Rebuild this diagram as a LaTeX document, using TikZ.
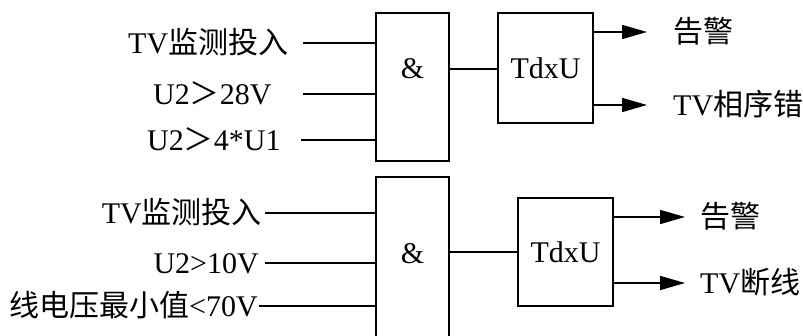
\documentclass[tikz,border=0pt]{standalone}
\usepackage{fontspec}
\setmainfont{Liberation Serif}
\newfontfamily\cjk{Noto Sans CJK SC}
\usetikzlibrary{arrows.meta}
\tikzset{
  gate/.style={draw=black, line width=1.7pt, minimum width=73pt, inner sep=0pt},
  delay/.style={draw=black, line width=1.7pt, minimum width=95pt, inner sep=0pt},
  wire/.style={draw=black, line width=1.7pt},
  outarr/.style={wire, -{Triangle[length=25pt,width=14pt]}},
  lab/.style={inner sep=0pt, font=\fontsize{30}{34}\selectfont},
}
\begin{document}
\begin{tikzpicture}[x=1pt,y=-1pt]
  \useasboundingbox (0,0) rectangle (803,336);
  \clip (0,0) rectangle (803,336);
  % upper branch: phase sequence
  \node[gate,minimum height=148pt] (andA) at (412.5,87) {};
  \node[delay,minimum height=110pt] (dlyA) at (545.5,68) {};
  \node[lab] (ampA) at (412.5,69) {\&};
  \node[lab] (tdA) at (dlyA) {TdxU};
  \coordinate (inA1) at (303,43);
  \coordinate (inA2) at (303,94);
  \coordinate (inA3) at (301,140);
  \node[lab,anchor=base west] (labA1) at (128,54) {TV{\cjk 监测投入}};
  \node[lab,anchor=base west] (labA2) at (153,105) {U2{\cjk ＞}28V};
  \node[lab,anchor=base west] (labA3) at (147,151) {U2{\cjk ＞}4*U1};
  \draw[wire] (inA1) -- (inA1 -| andA.west);
  \draw[wire] (inA2) -- (inA2 -| andA.west);
  \draw[wire] (inA3) -- (inA3 -| andA.west);
  \draw[wire] (ampA -| andA.east) -- (ampA -| dlyA.west);
  \coordinate (outA1) at (647,32);
  \coordinate (outA2) at (647,105);
  \draw[outarr] (outA1 -| dlyA.east) -- (outA1);
  \draw[outarr] (outA2 -| dlyA.east) -- (outA2);
  \node[lab,anchor=base west] (alA) at (673,43) {\cjk 告警};
  \node[lab,anchor=base west] (errA) at (673,116) {TV{\cjk 相序错}};
  % lower branch: line break
  \node[gate,minimum height=170pt] (andB) at (412.5,262) {};
  \node[delay,minimum height=108pt] (dlyB) at (565.5,252) {};
  \node[lab] (ampB) at (412.5,254) {\&};
  \node[lab] (tdB) at (dlyB) {TdxU};
  \coordinate (inB1) at (265,213);
  \coordinate (inB2) at (265,263);
  \coordinate (inB3) at (259,306);
  \node[lab,anchor=base east] (labB1) at (262,224) {TV{\cjk 监测投入}};
  \node[lab,anchor=base east] (labB2) at (259,274) {U2>10V};
  \node[lab,anchor=base east] (labB3) at (258,317) {{\cjk 线电压最小值}<70V};
  \draw[wire] (inB1) -- (inB1 -| andB.west);
  \draw[wire] (inB2) -- (inB2 -| andB.west);
  \draw[wire] (inB3) -- (inB3 -| andB.west);
  \draw[wire] (andB.east |- dlyB.west) -- (dlyB.west);
  \coordinate (outB1) at (685,217);
  \coordinate (outB2) at (685,283);
  \draw[outarr] (outB1 -| dlyB.east) -- (outB1);
  \draw[outarr] (outB2 -| dlyB.east) -- (outB2);
  \node[lab,anchor=base west] (alB) at (700,228) {\cjk 告警};
  \node[lab,anchor=base west] (brkB) at (700,294) {TV{\cjk 断线}};
\end{tikzpicture}
\end{document}
